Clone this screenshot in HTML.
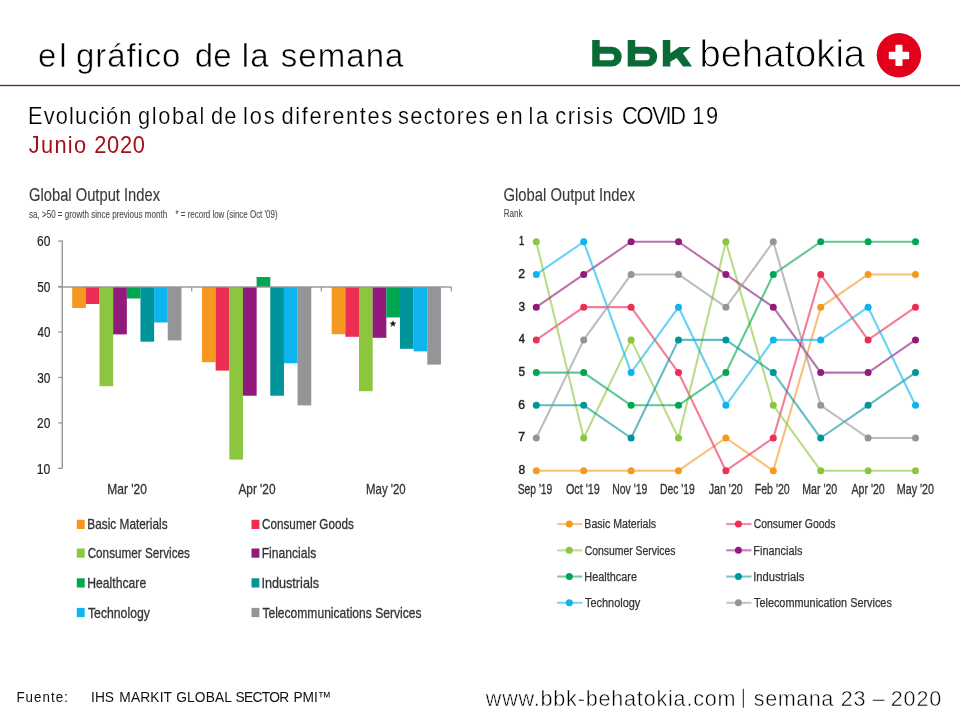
<!DOCTYPE html>
<html><head><meta charset="utf-8"><title>el gráfico de la semana</title>
<style>
html,body{margin:0;padding:0;background:#fff;}
body{width:960px;height:720px;overflow:hidden;position:relative;font-family:"Liberation Sans",sans-serif;}
svg{position:absolute;left:0;top:0;will-change:transform;}
text{font-family:"Liberation Sans",sans-serif;}
</style></head><body>
<svg width="960" height="720" viewBox="0 0 960 720">
<rect x="0" y="84.85" width="960" height="1.3" fill="#76201F"/>
<path d="M592.2,40.1 H599.7 V46.7 H611.75 A9.95,9.95 0 0 1 611.75,66.6 H592.2 Z M599.7,53.8 H611.0 A3.2,3.2 0 0 1 611.0,60.2 H599.7 Z" fill="#0B6B36" fill-rule="evenodd"/>
<path d="M627.7,40.1 H635.2 V46.7 H647.25 A9.95,9.95 0 0 1 647.25,66.6 H627.7 Z M635.2,53.8 H646.5 A3.2,3.2 0 0 1 646.5,60.2 H635.2 Z" fill="#0B6B36" fill-rule="evenodd"/>
<path d="M662.8,40.1 H670.3 V53.2 L679.4,47.1 H690.7 L683,53.5 L692,66.6 H683 L676.6,57.9 L670.3,61.7 V66.6 H662.8 Z" fill="#0B6B36"/>
<circle cx="898.9" cy="55.2" r="22.2" fill="#E2001A"/>
<rect x="888.8" y="51.8" width="20.4" height="7.5" rx="1" fill="#fff"/>
<rect x="895.4" y="44.8" width="7.1" height="21.2" rx="1" fill="#fff"/>
<rect x="61.6" y="240.5" width="1.4" height="228" fill="#95959a"/>
<rect x="58.2" y="240.45" width="4" height="1.3" fill="#95959a"/>
<rect x="58.2" y="285.90" width="4" height="1.3" fill="#95959a"/>
<rect x="58.2" y="331.35" width="4" height="1.3" fill="#95959a"/>
<rect x="58.2" y="376.80" width="4" height="1.3" fill="#95959a"/>
<rect x="58.2" y="422.25" width="4" height="1.3" fill="#95959a"/>
<rect x="58.2" y="467.70" width="4" height="1.3" fill="#95959a"/>
<rect x="72.20" y="287.00" width="13.70" height="21.00" fill="#F6971F"/>
<rect x="85.85" y="287.00" width="13.70" height="17.00" fill="#EC2D54"/>
<rect x="99.50" y="287.00" width="13.70" height="99.20" fill="#8CC63F"/>
<rect x="113.15" y="287.00" width="13.70" height="47.40" fill="#931A7D"/>
<rect x="126.80" y="287.00" width="13.70" height="11.50" fill="#00A650"/>
<rect x="140.45" y="287.00" width="13.70" height="54.70" fill="#00959B"/>
<rect x="154.10" y="287.00" width="13.70" height="35.50" fill="#0DB4EE"/>
<rect x="167.75" y="287.00" width="13.70" height="53.40" fill="#939598"/>
<rect x="202.00" y="287.00" width="13.70" height="75.20" fill="#F6971F"/>
<rect x="215.65" y="287.00" width="13.70" height="83.60" fill="#EC2D54"/>
<rect x="229.30" y="287.00" width="13.70" height="172.60" fill="#8CC63F"/>
<rect x="242.95" y="287.00" width="13.70" height="108.70" fill="#931A7D"/>
<rect x="256.60" y="277.00" width="13.70" height="10.00" fill="#00A650"/>
<rect x="270.25" y="287.00" width="13.70" height="108.70" fill="#00959B"/>
<rect x="283.90" y="287.00" width="13.70" height="76.30" fill="#0DB4EE"/>
<rect x="297.55" y="287.00" width="13.70" height="118.40" fill="#939598"/>
<rect x="331.70" y="287.00" width="13.70" height="47.20" fill="#F6971F"/>
<rect x="345.35" y="287.00" width="13.70" height="49.80" fill="#EC2D54"/>
<rect x="359.00" y="287.00" width="13.70" height="104.20" fill="#8CC63F"/>
<rect x="372.65" y="287.00" width="13.70" height="50.80" fill="#931A7D"/>
<rect x="386.30" y="287.00" width="13.70" height="30.40" fill="#00A650"/>
<rect x="399.95" y="287.00" width="13.70" height="61.80" fill="#00959B"/>
<rect x="413.60" y="287.00" width="13.70" height="64.40" fill="#0DB4EE"/>
<rect x="427.25" y="287.00" width="13.70" height="77.60" fill="#939598"/>
<rect x="58.2" y="286.3" width="393.2" height="1.4" fill="#95959a"/>
<rect x="191.1" y="287.0" width="1.2" height="4.5" fill="#95959a"/>
<rect x="320.7" y="287.0" width="1.2" height="4.5" fill="#95959a"/>
<rect x="450.59999999999997" y="287.0" width="1.2" height="4.5" fill="#95959a"/>
<polygon points="392.95,320.20 393.86,322.55 396.37,322.69 394.42,324.28 395.07,326.71 392.95,325.35 390.83,326.71 391.48,324.28 389.53,322.69 392.04,322.55" fill="#1a1a1a"/>
<rect x="76.8" y="519.8" width="7.9" height="9.2" fill="#F6971F"/>
<rect x="251.5" y="519.8" width="7.9" height="9.2" fill="#EC2D54"/>
<rect x="76.8" y="548.5" width="7.9" height="9.2" fill="#8CC63F"/>
<rect x="251.5" y="548.5" width="7.9" height="9.2" fill="#931A7D"/>
<rect x="76.8" y="578.3" width="7.9" height="9.2" fill="#00A650"/>
<rect x="251.5" y="578.3" width="7.9" height="9.2" fill="#00959B"/>
<rect x="76.8" y="607.9" width="7.9" height="9.2" fill="#0DB4EE"/>
<rect x="251.5" y="607.9" width="7.9" height="9.2" fill="#939598"/>
<polyline points="536.30,470.72 583.70,470.72 631.10,470.72 678.50,470.72 725.90,438.01 773.30,470.72 820.70,307.17 868.10,274.46 915.50,274.46" fill="none" stroke="#F6971F" stroke-width="2.1" stroke-opacity="0.62" stroke-linejoin="round"/>
<polyline points="536.30,339.88 583.70,307.17 631.10,307.17 678.50,372.59 725.90,470.72 773.30,438.01 820.70,274.46 868.10,339.88 915.50,307.17" fill="none" stroke="#EC2D54" stroke-width="2.1" stroke-opacity="0.62" stroke-linejoin="round"/>
<polyline points="536.30,241.75 583.70,438.01 631.10,339.88 678.50,438.01 725.90,241.75 773.30,405.30 820.70,470.72 868.10,470.72 915.50,470.72" fill="none" stroke="#8CC63F" stroke-width="2.1" stroke-opacity="0.62" stroke-linejoin="round"/>
<polyline points="536.30,307.17 583.70,274.46 631.10,241.75 678.50,241.75 725.90,274.46 773.30,307.17 820.70,372.59 868.10,372.59 915.50,339.88" fill="none" stroke="#931A7D" stroke-width="2.1" stroke-opacity="0.62" stroke-linejoin="round"/>
<polyline points="536.30,372.59 583.70,372.59 631.10,405.30 678.50,405.30 725.90,372.59 773.30,274.46 820.70,241.75 868.10,241.75 915.50,241.75" fill="none" stroke="#00A650" stroke-width="2.1" stroke-opacity="0.62" stroke-linejoin="round"/>
<polyline points="536.30,405.30 583.70,405.30 631.10,438.01 678.50,339.88 725.90,339.88 773.30,372.59 820.70,438.01 868.10,405.30 915.50,372.59" fill="none" stroke="#00959B" stroke-width="2.1" stroke-opacity="0.62" stroke-linejoin="round"/>
<polyline points="536.30,274.46 583.70,241.75 631.10,372.59 678.50,307.17 725.90,405.30 773.30,339.88 820.70,339.88 868.10,307.17 915.50,405.30" fill="none" stroke="#0DB4EE" stroke-width="2.1" stroke-opacity="0.62" stroke-linejoin="round"/>
<polyline points="536.30,438.01 583.70,339.88 631.10,274.46 678.50,274.46 725.90,307.17 773.30,241.75 820.70,405.30 868.10,438.01 915.50,438.01" fill="none" stroke="#939598" stroke-width="2.1" stroke-opacity="0.62" stroke-linejoin="round"/>
<circle cx="536.30" cy="470.72" r="3.5" fill="#F6971F"/>
<circle cx="583.70" cy="470.72" r="3.5" fill="#F6971F"/>
<circle cx="631.10" cy="470.72" r="3.5" fill="#F6971F"/>
<circle cx="678.50" cy="470.72" r="3.5" fill="#F6971F"/>
<circle cx="725.90" cy="438.01" r="3.5" fill="#F6971F"/>
<circle cx="773.30" cy="470.72" r="3.5" fill="#F6971F"/>
<circle cx="820.70" cy="307.17" r="3.5" fill="#F6971F"/>
<circle cx="868.10" cy="274.46" r="3.5" fill="#F6971F"/>
<circle cx="915.50" cy="274.46" r="3.5" fill="#F6971F"/>
<circle cx="536.30" cy="339.88" r="3.5" fill="#EC2D54"/>
<circle cx="583.70" cy="307.17" r="3.5" fill="#EC2D54"/>
<circle cx="631.10" cy="307.17" r="3.5" fill="#EC2D54"/>
<circle cx="678.50" cy="372.59" r="3.5" fill="#EC2D54"/>
<circle cx="725.90" cy="470.72" r="3.5" fill="#EC2D54"/>
<circle cx="773.30" cy="438.01" r="3.5" fill="#EC2D54"/>
<circle cx="820.70" cy="274.46" r="3.5" fill="#EC2D54"/>
<circle cx="868.10" cy="339.88" r="3.5" fill="#EC2D54"/>
<circle cx="915.50" cy="307.17" r="3.5" fill="#EC2D54"/>
<circle cx="536.30" cy="241.75" r="3.5" fill="#8CC63F"/>
<circle cx="583.70" cy="438.01" r="3.5" fill="#8CC63F"/>
<circle cx="631.10" cy="339.88" r="3.5" fill="#8CC63F"/>
<circle cx="678.50" cy="438.01" r="3.5" fill="#8CC63F"/>
<circle cx="725.90" cy="241.75" r="3.5" fill="#8CC63F"/>
<circle cx="773.30" cy="405.30" r="3.5" fill="#8CC63F"/>
<circle cx="820.70" cy="470.72" r="3.5" fill="#8CC63F"/>
<circle cx="868.10" cy="470.72" r="3.5" fill="#8CC63F"/>
<circle cx="915.50" cy="470.72" r="3.5" fill="#8CC63F"/>
<circle cx="536.30" cy="307.17" r="3.5" fill="#931A7D"/>
<circle cx="583.70" cy="274.46" r="3.5" fill="#931A7D"/>
<circle cx="631.10" cy="241.75" r="3.5" fill="#931A7D"/>
<circle cx="678.50" cy="241.75" r="3.5" fill="#931A7D"/>
<circle cx="725.90" cy="274.46" r="3.5" fill="#931A7D"/>
<circle cx="773.30" cy="307.17" r="3.5" fill="#931A7D"/>
<circle cx="820.70" cy="372.59" r="3.5" fill="#931A7D"/>
<circle cx="868.10" cy="372.59" r="3.5" fill="#931A7D"/>
<circle cx="915.50" cy="339.88" r="3.5" fill="#931A7D"/>
<circle cx="536.30" cy="372.59" r="3.5" fill="#00A650"/>
<circle cx="583.70" cy="372.59" r="3.5" fill="#00A650"/>
<circle cx="631.10" cy="405.30" r="3.5" fill="#00A650"/>
<circle cx="678.50" cy="405.30" r="3.5" fill="#00A650"/>
<circle cx="725.90" cy="372.59" r="3.5" fill="#00A650"/>
<circle cx="773.30" cy="274.46" r="3.5" fill="#00A650"/>
<circle cx="820.70" cy="241.75" r="3.5" fill="#00A650"/>
<circle cx="868.10" cy="241.75" r="3.5" fill="#00A650"/>
<circle cx="915.50" cy="241.75" r="3.5" fill="#00A650"/>
<circle cx="536.30" cy="405.30" r="3.5" fill="#00959B"/>
<circle cx="583.70" cy="405.30" r="3.5" fill="#00959B"/>
<circle cx="631.10" cy="438.01" r="3.5" fill="#00959B"/>
<circle cx="678.50" cy="339.88" r="3.5" fill="#00959B"/>
<circle cx="725.90" cy="339.88" r="3.5" fill="#00959B"/>
<circle cx="773.30" cy="372.59" r="3.5" fill="#00959B"/>
<circle cx="820.70" cy="438.01" r="3.5" fill="#00959B"/>
<circle cx="868.10" cy="405.30" r="3.5" fill="#00959B"/>
<circle cx="915.50" cy="372.59" r="3.5" fill="#00959B"/>
<circle cx="536.30" cy="274.46" r="3.5" fill="#0DB4EE"/>
<circle cx="583.70" cy="241.75" r="3.5" fill="#0DB4EE"/>
<circle cx="631.10" cy="372.59" r="3.5" fill="#0DB4EE"/>
<circle cx="678.50" cy="307.17" r="3.5" fill="#0DB4EE"/>
<circle cx="725.90" cy="405.30" r="3.5" fill="#0DB4EE"/>
<circle cx="773.30" cy="339.88" r="3.5" fill="#0DB4EE"/>
<circle cx="820.70" cy="339.88" r="3.5" fill="#0DB4EE"/>
<circle cx="868.10" cy="307.17" r="3.5" fill="#0DB4EE"/>
<circle cx="915.50" cy="405.30" r="3.5" fill="#0DB4EE"/>
<circle cx="536.30" cy="438.01" r="3.5" fill="#939598"/>
<circle cx="583.70" cy="339.88" r="3.5" fill="#939598"/>
<circle cx="631.10" cy="274.46" r="3.5" fill="#939598"/>
<circle cx="678.50" cy="274.46" r="3.5" fill="#939598"/>
<circle cx="725.90" cy="307.17" r="3.5" fill="#939598"/>
<circle cx="773.30" cy="241.75" r="3.5" fill="#939598"/>
<circle cx="820.70" cy="405.30" r="3.5" fill="#939598"/>
<circle cx="868.10" cy="438.01" r="3.5" fill="#939598"/>
<circle cx="915.50" cy="438.01" r="3.5" fill="#939598"/>
<rect x="557.1" y="523.05" width="25.2" height="2.1" fill="#F6971F" fill-opacity="0.55"/>
<circle cx="569.3" cy="524.10" r="3.5" fill="#F6971F"/>
<rect x="726.2" y="523.05" width="25.3" height="2.1" fill="#EC2D54" fill-opacity="0.55"/>
<circle cx="738.4" cy="524.10" r="3.5" fill="#EC2D54"/>
<rect x="557.1" y="549.28" width="25.2" height="2.1" fill="#8CC63F" fill-opacity="0.55"/>
<circle cx="569.3" cy="550.33" r="3.5" fill="#8CC63F"/>
<rect x="726.2" y="549.28" width="25.3" height="2.1" fill="#931A7D" fill-opacity="0.55"/>
<circle cx="738.4" cy="550.33" r="3.5" fill="#931A7D"/>
<rect x="557.1" y="575.51" width="25.2" height="2.1" fill="#00A650" fill-opacity="0.55"/>
<circle cx="569.3" cy="576.56" r="3.5" fill="#00A650"/>
<rect x="726.2" y="575.51" width="25.3" height="2.1" fill="#00959B" fill-opacity="0.55"/>
<circle cx="738.4" cy="576.56" r="3.5" fill="#00959B"/>
<rect x="557.1" y="601.74" width="25.2" height="2.1" fill="#0DB4EE" fill-opacity="0.55"/>
<circle cx="569.3" cy="602.79" r="3.5" fill="#0DB4EE"/>
<rect x="726.2" y="601.74" width="25.3" height="2.1" fill="#939598" fill-opacity="0.55"/>
<circle cx="738.4" cy="602.79" r="3.5" fill="#939598"/>
<rect x="742.8" y="688.8" width="1.1" height="18.9" fill="#333"/>
<text transform="scale(1.0,1)" x="37.95" y="66.5" font-size="33" font-weight="normal" textLength="28.71" lengthAdjust="spacing" fill="#000" stroke="#fff" stroke-width="0.5">el</text>
<text transform="scale(1.0,1)" x="76.06" y="66.5" font-size="33" font-weight="normal" textLength="104.32" lengthAdjust="spacing" fill="#000" stroke="#fff" stroke-width="0.5">gráfico</text>
<text transform="scale(1.0,1)" x="194.86" y="66.5" font-size="33" font-weight="normal" textLength="36.65" lengthAdjust="spacing" fill="#000" stroke="#fff" stroke-width="0.5">de</text>
<text transform="scale(1.0,1)" x="241.83" y="66.5" font-size="33" font-weight="normal" textLength="26.82" lengthAdjust="spacing" fill="#000" stroke="#fff" stroke-width="0.5">la</text>
<text transform="scale(1.0,1)" x="280.63" y="66.5" font-size="33" font-weight="normal" textLength="122.82" lengthAdjust="spacing" fill="#000" stroke="#fff" stroke-width="0.5">semana</text>
<text x="699.64" y="66.6" font-size="38" font-weight="normal" textLength="165.46" lengthAdjust="spacingAndGlyphs" fill="#000" stroke="#fff" stroke-width="0.8">behatokia</text>
<text transform="scale(0.95,1)" x="29.59" y="123.9" font-size="23" font-weight="normal" textLength="108.85" lengthAdjust="spacing" fill="#000" stroke="#fff" stroke-width="0.2">Evolución</text>
<text transform="scale(0.95,1)" x="145.24" y="123.9" font-size="23" font-weight="normal" textLength="69.77" lengthAdjust="spacing" fill="#000" stroke="#fff" stroke-width="0.2">global</text>
<text transform="scale(0.95,1)" x="221.98" y="123.9" font-size="23" font-weight="normal" textLength="26.83" lengthAdjust="spacing" fill="#000" stroke="#fff" stroke-width="0.2">de</text>
<text transform="scale(0.95,1)" x="255.92" y="123.9" font-size="23" font-weight="normal" textLength="33.12" lengthAdjust="spacing" fill="#000" stroke="#fff" stroke-width="0.2">los</text>
<text transform="scale(0.95,1)" x="296.30" y="123.9" font-size="23" font-weight="normal" textLength="116.48" lengthAdjust="spacing" fill="#000" stroke="#fff" stroke-width="0.2">diferentes</text>
<text transform="scale(0.95,1)" x="418.99" y="123.9" font-size="23" font-weight="normal" textLength="96.42" lengthAdjust="spacing" fill="#000" stroke="#fff" stroke-width="0.2">sectores</text>
<text transform="scale(0.95,1)" x="522.08" y="123.9" font-size="23" font-weight="normal" textLength="28.21" lengthAdjust="spacing" fill="#000" stroke="#fff" stroke-width="0.2">en</text>
<text transform="scale(0.95,1)" x="556.24" y="123.9" font-size="23" font-weight="normal" textLength="20.71" lengthAdjust="spacing" fill="#000" stroke="#fff" stroke-width="0.2">la</text>
<text transform="scale(0.95,1)" x="584.44" y="123.9" font-size="23" font-weight="normal" textLength="60.70" lengthAdjust="spacing" fill="#000" stroke="#fff" stroke-width="0.2">crisis</text>
<text transform="scale(0.95,1)" x="654.62" y="123.9" font-size="23" font-weight="normal" textLength="67.64" lengthAdjust="spacing" fill="#000" stroke="#fff" stroke-width="0.2">COVID</text>
<text transform="scale(0.95,1)" x="728.77" y="123.9" font-size="23" font-weight="normal" textLength="27.16" lengthAdjust="spacing" fill="#000" stroke="#fff" stroke-width="0.2">19</text>
<text transform="scale(0.95,1)" x="30.38" y="152.6" font-size="23" font-weight="normal" textLength="60.27" lengthAdjust="spacing" fill="#A3101A">Junio</text>
<text transform="scale(0.95,1)" x="99.16" y="152.6" font-size="23" font-weight="normal" textLength="53.42" lengthAdjust="spacing" fill="#A3101A">2020</text>
<text x="29.03" y="201.3" font-size="17.6" font-weight="normal" textLength="131.05" lengthAdjust="spacingAndGlyphs" fill="#3a3a3a" stroke="#3a3a3a" stroke-width="0.15">Global Output Index</text>
<text x="29.03" y="218" font-size="10.2" font-weight="normal" textLength="138.15" lengthAdjust="spacingAndGlyphs" fill="#4a4a4a" stroke="#4a4a4a" stroke-width="0.1">sa, &gt;50 = growth since previous month</text>
<text x="175.52" y="218" font-size="10.2" font-weight="normal" textLength="102.02" lengthAdjust="spacingAndGlyphs" fill="#4a4a4a" stroke="#4a4a4a" stroke-width="0.1">* = record low (since Oct &#x27;09)</text>
<text x="37.09" y="246.3" font-size="14.5" font-weight="normal" textLength="13.27" lengthAdjust="spacingAndGlyphs" fill="#222" stroke="#222" stroke-width="0.2">60</text>
<text x="37.23" y="291.75" font-size="14.5" font-weight="normal" textLength="13.13" lengthAdjust="spacingAndGlyphs" fill="#222" stroke="#222" stroke-width="0.2">50</text>
<text x="37.43" y="337.2" font-size="14.5" font-weight="normal" textLength="12.92" lengthAdjust="spacingAndGlyphs" fill="#222" stroke="#222" stroke-width="0.2">40</text>
<text x="37.25" y="382.65" font-size="14.5" font-weight="normal" textLength="13.11" lengthAdjust="spacingAndGlyphs" fill="#222" stroke="#222" stroke-width="0.2">30</text>
<text x="37.10" y="428.1" font-size="14.5" font-weight="normal" textLength="13.26" lengthAdjust="spacingAndGlyphs" fill="#222" stroke="#222" stroke-width="0.2">20</text>
<text x="36.77" y="473.55" font-size="14.5" font-weight="normal" textLength="13.61" lengthAdjust="spacingAndGlyphs" fill="#222" stroke="#222" stroke-width="0.2">10</text>
<text x="107.27" y="494" font-size="14.5" font-weight="normal" textLength="39.65" lengthAdjust="spacingAndGlyphs" fill="#333" stroke="#333" stroke-width="0.3">Mar &#x27;20</text>
<text x="238.43" y="494" font-size="14.5" font-weight="normal" textLength="37.08" lengthAdjust="spacingAndGlyphs" fill="#333" stroke="#333" stroke-width="0.3">Apr &#x27;20</text>
<text x="366.11" y="494" font-size="14.5" font-weight="normal" textLength="39.58" lengthAdjust="spacingAndGlyphs" fill="#333" stroke="#333" stroke-width="0.3">May &#x27;20</text>
<text x="87.28" y="529.4" font-size="14.8" font-weight="normal" textLength="80.30" lengthAdjust="spacingAndGlyphs" fill="#333" stroke="#333" stroke-width="0.3">Basic Materials</text>
<text x="262.06" y="529.4" font-size="14.8" font-weight="normal" textLength="91.72" lengthAdjust="spacingAndGlyphs" fill="#333" stroke="#333" stroke-width="0.3">Consumer Goods</text>
<text x="87.65" y="558.1" font-size="14.8" font-weight="normal" textLength="102.22" lengthAdjust="spacingAndGlyphs" fill="#333" stroke="#333" stroke-width="0.3">Consumer Services</text>
<text x="261.65" y="558.1" font-size="14.8" font-weight="normal" textLength="54.63" lengthAdjust="spacingAndGlyphs" fill="#333" stroke="#333" stroke-width="0.3">Financials</text>
<text x="87.25" y="587.9" font-size="14.8" font-weight="normal" textLength="58.94" lengthAdjust="spacingAndGlyphs" fill="#333" stroke="#333" stroke-width="0.3">Healthcare</text>
<text x="261.48" y="587.9" font-size="14.8" font-weight="normal" textLength="57.57" lengthAdjust="spacingAndGlyphs" fill="#333" stroke="#333" stroke-width="0.3">Industrials</text>
<text x="87.98" y="617.5" font-size="14.8" font-weight="normal" textLength="61.90" lengthAdjust="spacingAndGlyphs" fill="#333" stroke="#333" stroke-width="0.3">Technology</text>
<text x="262.38" y="617.5" font-size="14.8" font-weight="normal" textLength="159.16" lengthAdjust="spacingAndGlyphs" fill="#333" stroke="#333" stroke-width="0.3">Telecommunications Services</text>
<text x="503.58" y="201.25" font-size="17.6" font-weight="normal" textLength="131.50" lengthAdjust="spacingAndGlyphs" fill="#3a3a3a" stroke="#3a3a3a" stroke-width="0.15">Global Output Index</text>
<text x="503.64" y="217" font-size="10.2" font-weight="normal" textLength="18.80" lengthAdjust="spacingAndGlyphs" fill="#4a4a4a" stroke="#4a4a4a" stroke-width="0.1">Rank</text>
<text x="518.89" y="245.15" font-size="12.2" font-weight="normal" textLength="5.16" lengthAdjust="spacingAndGlyphs" fill="#222" stroke="#222" stroke-width="0.4">1</text>
<text x="518.28" y="277.86" font-size="12.2" font-weight="normal" textLength="6.84" lengthAdjust="spacingAndGlyphs" fill="#222" stroke="#222" stroke-width="0.4">2</text>
<text x="518.45" y="310.57" font-size="12.2" font-weight="normal" textLength="6.57" lengthAdjust="spacingAndGlyphs" fill="#222" stroke="#222" stroke-width="0.4">3</text>
<text x="518.64" y="343.28" font-size="12.2" font-weight="normal" textLength="6.18" lengthAdjust="spacingAndGlyphs" fill="#222" stroke="#222" stroke-width="0.4">4</text>
<text x="518.43" y="375.99" font-size="12.2" font-weight="normal" textLength="6.57" lengthAdjust="spacingAndGlyphs" fill="#222" stroke="#222" stroke-width="0.4">5</text>
<text x="518.28" y="408.7" font-size="12.2" font-weight="normal" textLength="6.75" lengthAdjust="spacingAndGlyphs" fill="#222" stroke="#222" stroke-width="0.4">6</text>
<text x="518.27" y="441.41" font-size="12.2" font-weight="normal" textLength="6.85" lengthAdjust="spacingAndGlyphs" fill="#222" stroke="#222" stroke-width="0.4">7</text>
<text x="518.38" y="474.12" font-size="12.2" font-weight="normal" textLength="6.64" lengthAdjust="spacingAndGlyphs" fill="#222" stroke="#222" stroke-width="0.4">8</text>
<text x="517.68" y="493.75" font-size="13.8" font-weight="normal" textLength="34.66" lengthAdjust="spacingAndGlyphs" fill="#333" stroke="#333" stroke-width="0.3">Sep &#x27;19</text>
<text x="565.89" y="493.75" font-size="13.8" font-weight="normal" textLength="33.98" lengthAdjust="spacingAndGlyphs" fill="#333" stroke="#333" stroke-width="0.3">Oct &#x27;19</text>
<text x="612.29" y="493.75" font-size="13.8" font-weight="normal" textLength="35.05" lengthAdjust="spacingAndGlyphs" fill="#333" stroke="#333" stroke-width="0.3">Nov &#x27;19</text>
<text x="660.05" y="493.75" font-size="13.8" font-weight="normal" textLength="34.79" lengthAdjust="spacingAndGlyphs" fill="#333" stroke="#333" stroke-width="0.3">Dec &#x27;19</text>
<text x="708.73" y="493.75" font-size="13.8" font-weight="normal" textLength="34.03" lengthAdjust="spacingAndGlyphs" fill="#333" stroke="#333" stroke-width="0.3">Jan &#x27;20</text>
<text x="754.78" y="493.75" font-size="13.8" font-weight="normal" textLength="34.98" lengthAdjust="spacingAndGlyphs" fill="#333" stroke="#333" stroke-width="0.3">Feb &#x27;20</text>
<text x="802.28" y="493.75" font-size="13.8" font-weight="normal" textLength="34.98" lengthAdjust="spacingAndGlyphs" fill="#333" stroke="#333" stroke-width="0.3">Mar &#x27;20</text>
<text x="851.38" y="493.75" font-size="13.8" font-weight="normal" textLength="33.39" lengthAdjust="spacingAndGlyphs" fill="#333" stroke="#333" stroke-width="0.3">Apr &#x27;20</text>
<text x="896.77" y="493.75" font-size="13.8" font-weight="normal" textLength="37.25" lengthAdjust="spacingAndGlyphs" fill="#333" stroke="#333" stroke-width="0.3">May &#x27;20</text>
<text x="584.36" y="528.4" font-size="12.5" font-weight="normal" textLength="71.80" lengthAdjust="spacingAndGlyphs" fill="#333" stroke="#333" stroke-width="0.25">Basic Materials</text>
<text x="753.69" y="528.4" font-size="12.5" font-weight="normal" textLength="81.86" lengthAdjust="spacingAndGlyphs" fill="#333" stroke="#333" stroke-width="0.25">Consumer Goods</text>
<text x="584.70" y="554.63" font-size="12.5" font-weight="normal" textLength="90.80" lengthAdjust="spacingAndGlyphs" fill="#333" stroke="#333" stroke-width="0.25">Consumer Services</text>
<text x="753.33" y="554.63" font-size="12.5" font-weight="normal" textLength="49.04" lengthAdjust="spacingAndGlyphs" fill="#333" stroke="#333" stroke-width="0.25">Financials</text>
<text x="584.33" y="580.86" font-size="12.5" font-weight="normal" textLength="52.63" lengthAdjust="spacingAndGlyphs" fill="#333" stroke="#333" stroke-width="0.25">Healthcare</text>
<text x="753.19" y="580.86" font-size="12.5" font-weight="normal" textLength="51.09" lengthAdjust="spacingAndGlyphs" fill="#333" stroke="#333" stroke-width="0.25">Industrials</text>
<text x="584.98" y="607.09" font-size="12.5" font-weight="normal" textLength="55.32" lengthAdjust="spacingAndGlyphs" fill="#333" stroke="#333" stroke-width="0.25">Technology</text>
<text x="753.98" y="607.09" font-size="12.5" font-weight="normal" textLength="137.89" lengthAdjust="spacingAndGlyphs" fill="#333" stroke="#333" stroke-width="0.25">Telecommunication Services</text>
<text transform="scale(0.92,1)" x="17.83" y="701.7" font-size="14.5" font-weight="normal" textLength="55.99" lengthAdjust="spacing" fill="#111">Fuente:</text>
<text transform="scale(0.93,1)" x="97.99" y="701.8" font-size="14.8" font-weight="normal" textLength="24.63" lengthAdjust="spacing" fill="#111">IHS</text>
<text transform="scale(0.93,1)" x="128.36" y="701.8" font-size="14.8" font-weight="normal" textLength="56.61" lengthAdjust="spacing" fill="#111">MARKIT</text>
<text transform="scale(0.93,1)" x="189.47" y="701.8" font-size="14.8" font-weight="normal" textLength="59.95" lengthAdjust="spacing" fill="#111">GLOBAL</text>
<text transform="scale(0.93,1)" x="253.31" y="701.8" font-size="14.8" font-weight="normal" textLength="57.70" lengthAdjust="spacing" fill="#111">SECTOR</text>
<text transform="scale(0.93,1)" x="315.56" y="701.8" font-size="14.8" font-weight="normal" textLength="40.73" lengthAdjust="spacing" fill="#111">PMI™</text>
<text transform="scale(0.96,1)" x="506.02" y="705.6" font-size="22.5" font-weight="normal" textLength="260.20" lengthAdjust="spacing" fill="#000" stroke="#fff" stroke-width="0.5">www.bbk-behatokia.com</text>
<text transform="scale(0.96,1)" x="785.26" y="705.6" font-size="22.5" font-weight="normal" textLength="82.71" lengthAdjust="spacing" fill="#000" stroke="#fff" stroke-width="0.5">semana</text>
<text transform="scale(0.96,1)" x="875.69" y="705.6" font-size="22.5" font-weight="normal" textLength="25.77" lengthAdjust="spacing" fill="#000" stroke="#fff" stroke-width="0.5">23</text>
<text transform="scale(0.96,1)" x="909.11" y="705.6" font-size="22.5" font-weight="normal" textLength="10.95" lengthAdjust="spacing" fill="#000" stroke="#fff" stroke-width="0.5">–</text>
<text transform="scale(0.96,1)" x="927.98" y="705.6" font-size="22.5" font-weight="normal" textLength="52.43" lengthAdjust="spacing" fill="#000" stroke="#fff" stroke-width="0.5">2020</text>
</svg>
</body></html>
